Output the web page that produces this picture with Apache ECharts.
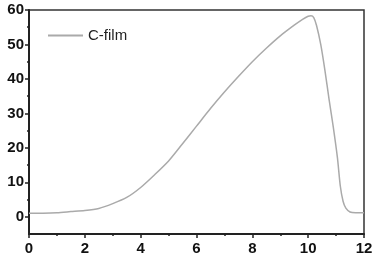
<!DOCTYPE html>
<html>
<head>
<meta charset="utf-8">
<script src="https://cdn.jsdelivr.net/npm/echarts@6/dist/echarts.min.js"></script>
<style>html,body{margin:0;padding:0;background:#fff;}#c{width:387px;height:262px;}</style>
</head>
<body>
<div id="c"></div>
<script>
const seriesName = 'C-film';
const xValues = [0, 0.5, 1, 1.5, 2, 2.5, 3, 3.5, 4, 4.5, 5, 5.5, 6, 6.5, 7, 7.5, 8, 8.5, 9, 9.5, 9.8, 10, 10.1, 10.2, 10.3, 10.45, 10.6, 10.75, 10.9, 11.05, 11.15, 11.25, 11.35, 11.5, 11.7, 12];
const yValues = [1.0, 1.05, 1.2, 1.5, 1.8, 2.4, 3.8, 5.6, 8.5, 12.2, 16.2, 21.2, 26.3, 31.4, 36.2, 40.7, 45.0, 48.9, 52.5, 55.6, 57.3, 58.2, 58.3, 57.8, 55.5, 50, 42.5, 34, 26, 17, 9, 4.5, 2.5, 1.4, 1.2, 1.2];
const yMajorTicks = [0, 10, 20, 30, 40, 50, 60];
const yMinorTicks = [5, 15, 25, 35, 45, 55];

const chart = echarts.init(document.getElementById('c'));
const labelFont = {fontFamily: 'Liberation Sans, Arial, sans-serif', fontWeight: 'bold', fontSize: 15, color: '#111'};
chart.setOption({
  animation: false,
  grid: {left: 29, right: 23, top: 10, bottom: 28, show: true, borderColor: '#333', borderWidth: 1.5, backgroundColor: 'transparent'},
  legend: {
    show: true, left: 48, top: 28, padding: 0, icon: 'rect', itemWidth: 35, itemHeight: 2, itemGap: 4,
    textStyle: {fontFamily: 'Liberation Sans, Arial, sans-serif', fontSize: 15, color: '#222'},
    data: [seriesName]
  },
  xAxis: {
    type: 'value', min: 0, max: 12, interval: 2,
    axisLine: {onZero: false, lineStyle: {color: '#222', width: 2}},
    axisTick: {inside: false, length: 4, lineStyle: {color: '#222', width: 1.5}},
    minorTick: {show: true, splitNumber: 2, length: 2, lineStyle: {color: '#222', width: 1.5}},
    splitLine: {show: false},
    axisLabel: Object.assign({margin: 7}, labelFont)
  },
  yAxis: [{
    type: 'value', min: -5, max: 60,
    axisLine: {show: true, onZero: false, lineStyle: {color: '#222', width: 2}},
    axisTick: {show: true, inside: false, length: 4, lineStyle: {color: '#222', width: 1.5}, customValues: yMajorTicks},
    minorTick: {show: false},
    splitLine: {show: false},
    axisLabel: Object.assign({margin: 5, customValues: yMajorTicks}, labelFont)
  }, {
    type: 'value', min: -5, max: 60, position: 'left', offset: 0,
    axisLine: {show: false},
    axisTick: {show: true, inside: false, length: 2, lineStyle: {color: '#222', width: 1.5}, customValues: yMinorTicks},
    splitLine: {show: false},
    axisLabel: {show: false}
  }],
  series: [{
    name: seriesName, type: 'line', showSymbol: false, smooth: 0.25,
    lineStyle: {color: '#aaaaaa', width: 1.5},
    itemStyle: {color: '#aaaaaa'},
    data: xValues.map((x, i) => [x, yValues[i]])
  }]
});
</script>
</body>
</html>
